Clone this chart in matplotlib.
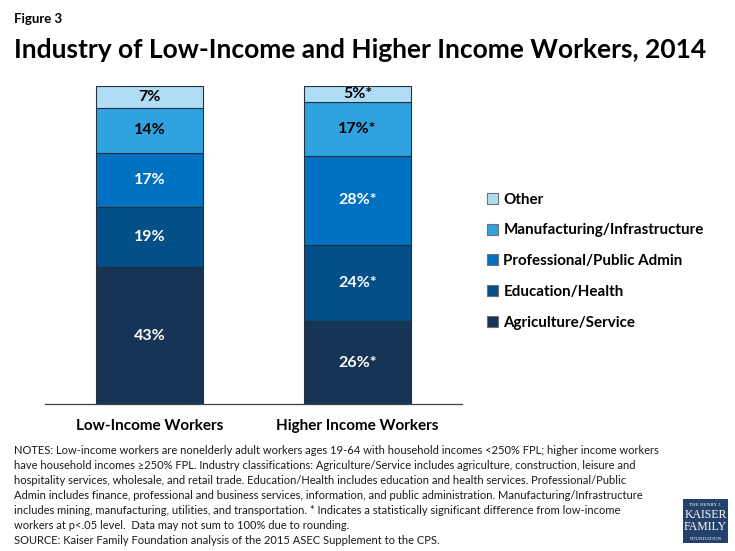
import numpy as np
import matplotlib.pyplot as plt
from matplotlib.patches import Rectangle

# Data
groups = ["Low-Income Workers", "Higher Income Workers"]
industries = [
    "Agriculture/Service",
    "Education/Health",
    "Professional/Public Admin",
    "Manufacturing/Infrastructure",
    "Other",
]
low_income = [43, 19, 17, 14, 7]
higher_income = [26, 24, 28, 17, 5]
higher_signif = [True, True, True, True, True]

colors = ["#163456", "#034F87", "#0070C0", "#30A2E0", "#B0DDF4"]
label_colors = ["white", "white", "white", "black", "black"]

notes = (
    "NOTES: Low-income workers are nonelderly adult workers ages 19-64 with household incomes <250% FPL; higher income workers\n"
    "have household incomes \u2265250% FPL. Industry classifications: Agriculture/Service includes agriculture, construction, leisure and\n"
    "hospitality services, wholesale, and retail trade. Education/Health includes education and health services. Professional/Public\n"
    "Admin includes finance, professional and business services, information, and public administration. Manufacturing/Infrastructure\n"
    "includes mining, manufacturing, utilities, and transportation. * Indicates a statistically significant difference from low-income\n"
    "workers at p<.05 level.  Data may not sum to 100% due to rounding.\n"
    "SOURCE: Kaiser Family Foundation analysis of the 2015 ASEC Supplement to the CPS."
)

plt.rcParams["font.family"] = ["Lato", "DejaVu Sans"]

W, H = 735, 551
fig = plt.figure(figsize=(W / 100, H / 100), dpi=100)

# axes placed in pixel terms: x 45..462, y 85.7..404
ax = fig.add_axes([45 / W, (H - 404) / H, 417 / W, 318.3 / H])

x = np.arange(len(groups))
values = np.array([low_income, higher_income])
bottoms = np.zeros(len(groups))
handles = []
for i, name in enumerate(industries):
    vals = values[:, i]
    bars = ax.bar(x, vals, width=0.514, bottom=bottoms, color=colors[i],
                  edgecolor="#22303f", linewidth=0.8, label=name)
    handles.append(bars)
    for j, b in enumerate(bars):
        txt = f"{vals[j]}%"
        if j == 1 and higher_signif[i]:
            txt += "*"
        ax.text(b.get_x() + b.get_width() / 2, bottoms[j] + vals[j] / 2, txt,
                ha="center", va="center", fontsize=11.5, fontweight="bold",
                color=label_colors[i])
    bottoms += vals

ax.set_xlim(-0.502, 1.502)
ax.set_ylim(0, 100)
for s in ["top", "right", "left"]:
    ax.spines[s].set_visible(False)
ax.spines["bottom"].set_color("#404040")
ax.spines["bottom"].set_linewidth(0.9)
ax.set_yticks([])
ax.set_xticks(x)
ax.set_xticklabels(groups, fontsize=11, fontweight="bold")
ax.tick_params(axis="x", length=0, pad=11)

# legend, top item first
leg = fig.legend(handles[::-1], industries[::-1], loc="upper left",
                 bbox_to_anchor=(473 / W, 1 - 179 / H), frameon=False,
                 handlelength=0.75, handleheight=0.75, handletextpad=0.35,
                 labelspacing=1.11, prop={"size": 10.9, "weight": "bold"})
for patch in leg.get_patches():
    patch.set_edgecolor("#707070")

fig.text(14 / W, 1 - 19 / H, "Figure 3", fontsize=9.5, fontweight="bold",
         va="center", ha="left")
fig.text(14 / W, 1 - 50 / H, "Industry of Low-Income and Higher Income Workers, 2014",
         fontsize=19, fontweight="bold", va="center", ha="left")

fig.text(14 / W, 1 - 445 / H, notes, fontsize=8.05, va="top", ha="left",
         linespacing=1.45, color="#1a1a1a")

# logo block
fig.patches.append(Rectangle((683 / W, 1 - 543 / H), 45 / W, 44 / H,
                             transform=fig.transFigure, facecolor="#24416b",
                             edgecolor="none"))
logo_font = ["Liberation Serif", "DejaVu Serif"]
fig.text(705.5 / W, 1 - 504.5 / H, "THE HENRY J.", fontsize=3.6, color="white",
         ha="center", va="center", family=logo_font)
fig.text(705.5 / W, 1 - 515.5 / H, "KAISER", fontsize=8.5, color="white",
         ha="center", va="center", family=logo_font)
fig.text(705.5 / W, 1 - 527.5 / H, "FAMILY", fontsize=8.5, color="white",
         ha="center", va="center", family=logo_font)
fig.text(705.5 / W, 1 - 538.5 / H, "FOUNDATION", fontsize=3.6, color="white",
         ha="center", va="center", family=logo_font)

fig.savefig("out.png", dpi=100)
